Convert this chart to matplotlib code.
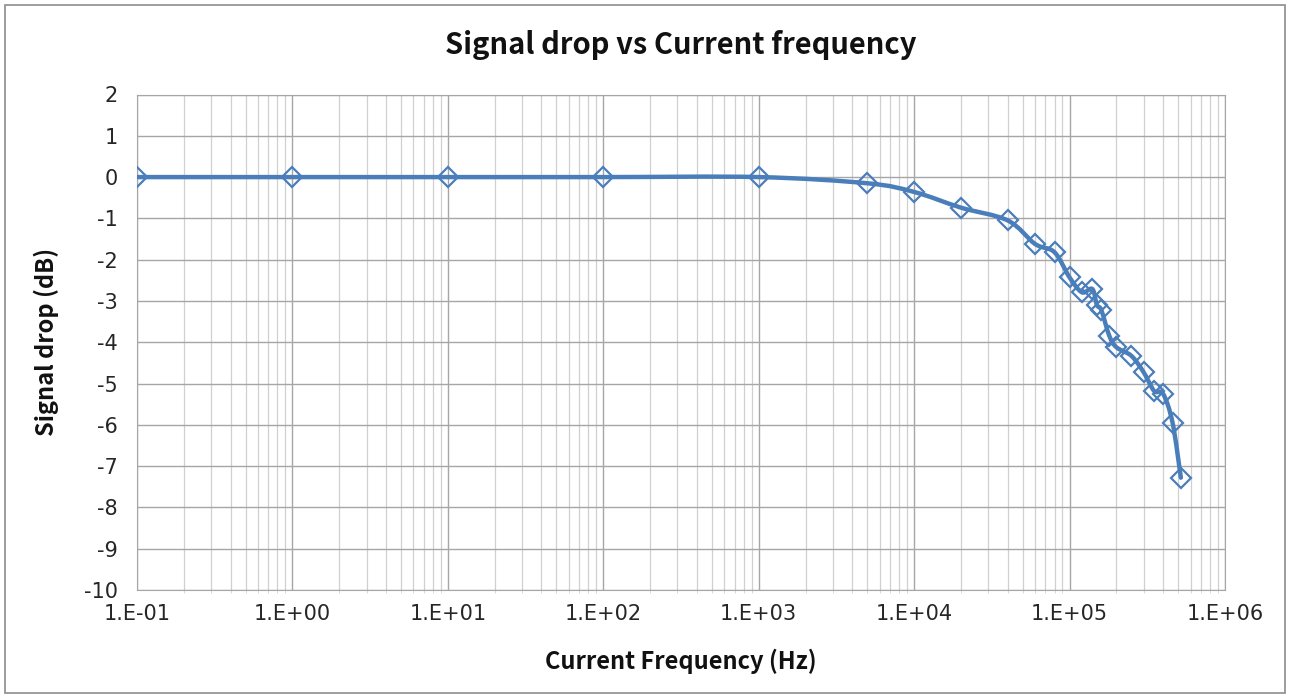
import numpy as np
import matplotlib
matplotlib.use("Agg")
import matplotlib.pyplot as plt
from matplotlib.path import Path
from matplotlib.patches import PathPatch, Rectangle
from matplotlib.ticker import LogLocator

plt.rcParams["axes.unicode_minus"] = False
head_font = ["Noto Sans CJK SC", "DejaVu Sans"]
tick_font = ["DejaVu Sans"]

# data
freq_hz = [1e-1, 1e0, 1e1, 1e2, 1e3, 5e3, 1e4, 2e4, 4e4, 6e4, 8e4, 1e5,
           1.2e5, 1.4e5, 1.5e5, 1.6e5, 1.8e5, 2e5, 2.5e5, 3e5, 3.5e5, 4e5,
           4.6e5, 5.2e5]
drop_db = [0, 0, 0, 0, 0, -0.15, -0.36, -0.74, -1.05, -1.62, -1.82, -2.43,
           -2.79, -2.71, -3.1, -3.22, -3.84, -4.12, -4.33, -4.73, -5.18,
           -5.25, -5.95, -7.28]
x_ticks = [1e-1, 1e0, 1e1, 1e2, 1e3, 1e4, 1e5, 1e6]
x_tick_labels = ["1.E-01", "1.E+00", "1.E+01", "1.E+02", "1.E+03", "1.E+04",
                 "1.E+05", "1.E+06"]
y_ticks = list(range(-10, 3))

blue = "#4a7ebb"

fig = plt.figure(figsize=(12.9, 6.98), dpi=100)
ax = fig.add_axes([137 / 1290, 1 - 590 / 698, (1225 - 137) / 1290, (590 - 94.5) / 698])

# outer chart border like the spreadsheet frame
fig.patches.append(Rectangle((5 / 1290, 5 / 698), 1280 / 1290, 688 / 698,
                             transform=fig.transFigure, fill=False,
                             edgecolor="#8c8c8c", linewidth=1.2))

ax.set_xscale("log")
ax.set_xlim(1e-1, 1e6)
ax.set_ylim(-10, 2)

# smooth line (Catmull-Rom style, like the spreadsheet "smoothed line")
lx = np.log10(freq_hz)
yy = np.array(drop_db, dtype=float)
n = len(lx)
verts = [(freq_hz[0], yy[0])]
codes = [Path.MOVETO]
for i in range(n - 1):
    p0 = (lx[max(i - 1, 0)], yy[max(i - 1, 0)])
    p1 = (lx[i], yy[i])
    p2 = (lx[i + 1], yy[i + 1])
    p3 = (lx[min(i + 2, n - 1)], yy[min(i + 2, n - 1)])
    c1 = (p1[0] + (p2[0] - p0[0]) / 6, p1[1] + (p2[1] - p0[1]) / 6)
    c2 = (p2[0] - (p3[0] - p1[0]) / 6, p2[1] - (p3[1] - p1[1]) / 6)
    for c in (c1, c2, p2):
        verts.append((10 ** c[0], c[1]))
    codes += [Path.CURVE4] * 3
ax.add_patch(PathPatch(Path(verts, codes), fill=False, edgecolor=blue,
                       linewidth=3.2, zorder=3, capstyle="round",
                       joinstyle="round"))

ax.plot(freq_hz, drop_db, linestyle="none", marker="D", markersize=10,
        markerfacecolor="none", markeredgecolor=blue, markeredgewidth=1.6,
        zorder=4)

ax.set_xticks(x_ticks, labels=x_tick_labels, fontsize=15, family=tick_font,
              color="#262626")
ax.xaxis.set_minor_locator(LogLocator(base=10, subs=np.arange(2, 10), numticks=20))
ax.xaxis.set_minor_formatter(plt.NullFormatter())
ax.set_yticks(y_ticks, labels=[str(v) for v in y_ticks], fontsize=15,
              family=tick_font, color="#262626")

ax.grid(which="major", color="#a6a6a6", linewidth=1.0)
ax.grid(which="minor", axis="x", color="#d0d0d0", linewidth=0.9)
ax.set_axisbelow(True)
for s in ax.spines.values():
    s.set_color("#a6a6a6")
ax.tick_params(axis="both", which="major", length=0)
ax.tick_params(axis="x", which="major", pad=10)
ax.tick_params(axis="y", which="major", pad=14)
ax.tick_params(axis="x", which="minor", length=2, color="#d0d0d0")

ax.set_title("Signal drop vs Current frequency", fontsize=21, fontweight="bold",
             pad=29, color="#111111", family=head_font)
ax.set_xlabel("Current Frequency (Hz)", fontsize=17, fontweight="bold",
              color="#111111", labelpad=18, family=head_font)
ax.set_ylabel("Signal drop (dB)", fontsize=17, fontweight="bold",
              color="#111111", labelpad=18, family=head_font)

fig.savefig("out.png", dpi=100)
